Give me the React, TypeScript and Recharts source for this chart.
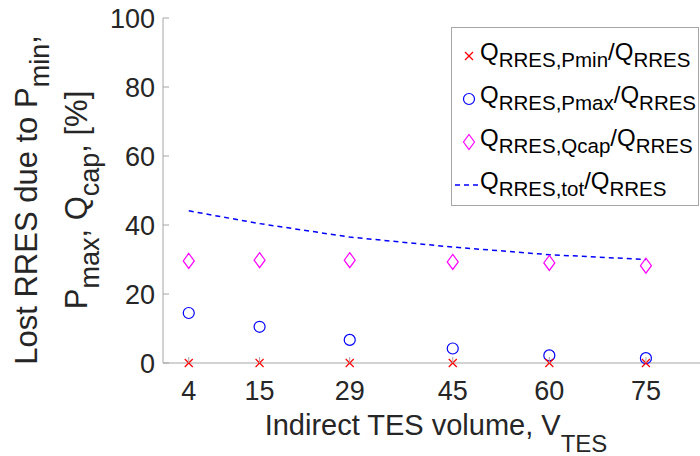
import React from "react";
import { ComposedChart, Scatter, Line, XAxis, YAxis, Legend } from "recharts";

const tesVolumes = [4, 15, 29, 45, 60, 75];
const xTicks = [4, 15, 29, 45, 60, 75];
const yTicks = [0, 20, 40, 60, 80, 100];
const pminShare = [0, 0, 0, 0, 0, 0];
const pmaxShare = [14.5, 10.5, 6.7, 4.2, 2.2, 1.4];
const qcapShare = [29.6, 29.8, 29.8, 29.3, 29.0, 28.2];
const totShare = [44.1, 40.4, 36.5, 33.6, 31.4, 30.0];

const data = tesVolumes.map((x, i) => ({
  x,
  pmin: pminShare[i],
  pmax: pmaxShare[i],
  qcap: qcapShare[i],
  tot: totShare[i],
}));

const AXIS = "#a6a6a6";
const TXT = "#262626";
const FONT = "'Liberation Sans', Arial, sans-serif";

const CrossShape = (p: any) => (
  <g>
    <line x1={p.cx - 4} y1={p.cy - 4} x2={p.cx + 4} y2={p.cy + 4} stroke="#ff0000" strokeWidth={1.2} />
    <line x1={p.cx - 4} y1={p.cy + 4} x2={p.cx + 4} y2={p.cy - 4} stroke="#ff0000" strokeWidth={1.2} />
  </g>
);
const CircleShape = (p: any) => (
  <circle cx={p.cx} cy={p.cy} r={5.5} fill="none" stroke="#0000ff" strokeWidth={1.2} />
);
const DiamondShape = (p: any) => (
  <polygon
    points={`${p.cx},${p.cy - 7.5} ${p.cx + 5.5},${p.cy} ${p.cx},${p.cy + 7.5} ${p.cx - 5.5},${p.cy}`}
    fill="none"
    stroke="#ff00ff"
    strokeWidth={1.2}
  />
);

const YTick = (p: any) => (
  <g>
    <line x1={p.x} x2={p.x + 6} y1={p.y} y2={p.y} stroke={AXIS} />
    <text x={p.x - 8} y={p.y} dy="0.36em" textAnchor="end" fontSize={27} fill={TXT} fontFamily={FONT}>
      {p.payload.value}
    </text>
  </g>
);
const XTick = (p: any) => (
  <g>
    <line x1={p.x} x2={p.x} y1={p.y} y2={p.y - 6} stroke={AXIS} />
    <text x={p.x} y={p.y + 37} textAnchor="middle" fontSize={27} fill={TXT} fontFamily={FONT}>
      {p.payload.value}
    </text>
  </g>
);
const TopTick = (p: any) => (
  <line x1={p.x} x2={p.x} y1={p.y} y2={p.y + 6} stroke={AXIS} />
);

const legendItems = [
  { key: "pmin", sub: "RRES,Pmin", marker: "x" },
  { key: "pmax", sub: "RRES,Pmax", marker: "o" },
  { key: "qcap", sub: "RRES,Qcap", marker: "d" },
  { key: "tot", sub: "RRES,tot", marker: "l" },
];

const Marker = ({ m }: { m: string }) => (
  <svg width={26} height={20} style={{ flex: "none" }}>
    {m === "x" && (
      <g>
        <line x1={13} y1={6} x2={21} y2={14} stroke="#ff0000" strokeWidth={1.2} />
        <line x1={13} y1={14} x2={21} y2={6} stroke="#ff0000" strokeWidth={1.2} />
      </g>
    )}
    {m === "o" && <circle cx={17} cy={10} r={5.5} fill="none" stroke="#0000ff" strokeWidth={1.2} />}
    {m === "d" && (
      <polygon points="17,2.5 22.5,10 17,17.5 11.5,10" fill="none" stroke="#ff00ff" strokeWidth={1.2} />
    )}
    {m === "l" && <line x1={3} y1={10} x2={28} y2={10} stroke="#0000ff" strokeWidth={1.5} strokeDasharray="5 4" />}
  </svg>
);

const LegendBox = () => (
  <div
    style={{
      border: `1px solid ${AXIS}`,
      background: "#fff",
      width: 248,
      height: 179,
      boxSizing: "border-box",
      paddingTop: 6,
      fontFamily: FONT,
      color: "#000",
      overflow: "hidden",
    }}
  >
    {legendItems.map((it) => (
      <div key={it.key} style={{ display: "flex", alignItems: "center", height: 43, whiteSpace: "nowrap" }}>
        <Marker m={it.marker} />
        <span style={{ fontSize: 24, marginLeft: 2 }}>
          Q<sub style={{ fontSize: 20.5, verticalAlign: "-0.35em" }}>{it.sub}</sub>/Q
          <sub style={{ fontSize: 20.5, verticalAlign: "-0.35em" }}>RRES</sub>
        </span>
      </div>
    ))}
  </div>
);

export default function App() {
  return (
    <div style={{ position: "absolute", left: 0, top: 0, width: 700, height: 456, background: "#fff" }}>
      <ComposedChart width={700} height={456} data={data} margin={{ top: 18, right: 0, bottom: 0, left: 0 }}>
        <XAxis
          dataKey="x"
          type="number"
          domain={[0, 83.4]}
          ticks={xTicks}
          interval={0}
          height={93}
          tickSize={0}
          tickMargin={0}
          tickLine={false}
          axisLine={{ stroke: AXIS }}
          tick={<XTick />}
        />
        <XAxis
          xAxisId="top"
          orientation="top"
          dataKey="x"
          type="number"
          domain={[0, 83.4]}
          ticks={xTicks}
          interval={0}
          height={0}
          tickSize={0}
          tickMargin={0}
          tickLine={false}
          axisLine={{ stroke: AXIS }}
          tick={<TopTick />}
        />
        <YAxis
          type="number"
          domain={[0, 100]}
          ticks={yTicks}
          interval={0}
          width={163}
          tickSize={0}
          tickMargin={0}
          tickLine={false}
          axisLine={{ stroke: AXIS }}
          tick={<YTick />}
        />
        <Legend
          layout="vertical"
          align="center"
          verticalAlign="middle"
          wrapperStyle={{ left: 451, top: 27, width: 248, height: 179 }}
          content={() => <LegendBox />}
        />
        <Line
          dataKey="tot"
          stroke="#0000ff"
          strokeWidth={1.5}
          strokeDasharray="5 4"
          dot={false}
          activeDot={false}
          isAnimationActive={false}
        />
        <Scatter dataKey="qcap" shape={DiamondShape} isAnimationActive={false} />
        <Scatter dataKey="pmax" shape={CircleShape} isAnimationActive={false} />
        <Scatter dataKey="pmin" shape={CrossShape} isAnimationActive={false} />
      </ComposedChart>
      <svg
        width={700}
        height={456}
        style={{ position: "absolute", left: 0, top: 0, pointerEvents: "none" }}
        fontFamily={FONT}
        fill={TXT}
      >
        <text transform="translate(37,200) rotate(-90)" textAnchor="middle" fontSize={31}>
          Lost RRES due to P
          <tspan fontSize={27} dy={12}>min</tspan>
          <tspan dy={-12}>,</tspan>
        </text>
        <text transform="translate(87,200) rotate(-90)" textAnchor="middle" fontSize={31}>
          P<tspan fontSize={27} dy={12}>max</tspan>
          <tspan dy={-12}>, Q</tspan>
          <tspan fontSize={27} dy={12}>cap</tspan>
          <tspan dy={-12}>, [%]</tspan>
        </text>
        <text x={436} y={435} textAnchor="middle" fontSize={29}>
          Indirect TES volume, V<tspan fontSize={24} dy={17}>TES</tspan>
        </text>
      </svg>
    </div>
  );
}
